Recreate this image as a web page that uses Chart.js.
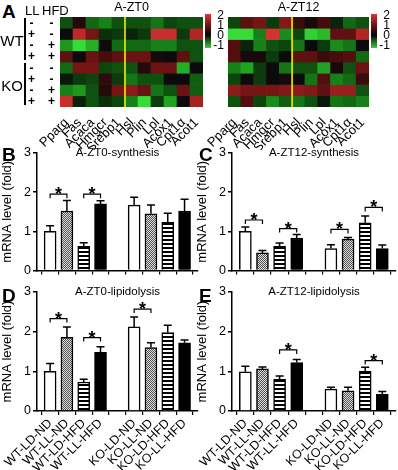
<!DOCTYPE html>
<html><head><meta charset="utf-8">
<script src="https://cdn.jsdelivr.net/npm/chart.js@4.4.0/dist/chart.umd.min.js"></script>
<style>
body{margin:0;background:#fff;}
#root{position:relative;width:398px;height:470px;overflow:hidden;background:#fff;font-family:"Liberation Sans",Arial,sans-serif;}
.box{position:absolute;}
.t{position:absolute;color:#000;white-space:nowrap;line-height:1;font-family:"Liberation Sans",Arial,sans-serif;}
.c{transform:translate(-50%,-50%);}
.L{font-weight:bold;font-size:19px;}
.vbar{position:absolute;background:#000;width:2px;}
</style></head><body>
<div id="root">
  <div class="box" style="left:30px;top:0;width:200px;height:150px"><canvas id="hm0" width="200" height="150"></canvas></div>
  <div class="box" style="left:200px;top:0;width:198px;height:150px"><canvas id="hm12" width="198" height="150"></canvas></div>
  <div class="box" style="left:0;top:135px;width:200px;height:145px"><canvas id="cB" width="200" height="145"></canvas></div>
  <div class="box" style="left:195px;top:135px;width:203px;height:145px"><canvas id="cC" width="203" height="145"></canvas></div>
  <div class="box" style="left:0;top:280px;width:200px;height:190px"><canvas id="cD" width="200" height="190"></canvas></div>
  <div class="box" style="left:195px;top:280px;width:203px;height:190px"><canvas id="cE" width="203" height="190"></canvas></div>
</div>
<script>
// ---------------- data ----------------
const genes = ['Pparg','Fas','Acaca','Hmgcr','Srebp1','Hsl','Plin','Lpl','Acox1','Cpt1α','Acot1'];
const genotypes = ['WT','WT','WT','WT','KO','KO','KO','KO'];
const llSigns  = ['-','+','-','+','-','+','-','+'];
const hfdSigns = ['-','-','+','+','-','-','+','+'];
const colorbarTicks = ['2','1','0','-1'];

const heatZT0 = [
  [-0.30, 0.10,-0.40,-0.50,-0.30,-0.30,-0.30,-0.45,-0.25,-0.30,-0.30],
  [ 0.00, 0.75, 0.45,-0.15,-0.20,-0.10,-0.20, 0.80, 0.80,-0.20, 0.70],
  [-0.60,-0.90,-0.70, 0.00,-0.40,-0.40,-0.40,-0.50,-0.50,-0.30,-0.30],
  [ 0.35, 0.00, 0.40, 0.25, 0.35, 0.40, 0.40, 0.05, 0.00, 0.35,-0.30],
  [-0.40, 0.45, 0.45,-0.25,-0.30,-0.30, 0.10, 0.40, 0.40,-0.70, 0.00],
  [-0.05,-0.20,-0.25, 0.15,-0.20,-0.45,-0.30,-0.30, 0.00, 0.00,-0.35],
  [-0.50,-0.60,-0.30, 0.10, 0.45, 0.55, 0.40,-0.45,-0.30, 0.40,-0.35],
  [ 0.80,-0.10,-0.30,-0.15,-0.25,-0.50,-0.95,-0.20,-0.65, 0.00, 0.65]
];
const heatZT12 = [
  [-0.25, 0.35, 0.45,-0.20, 0.50, 0.20, 0.05, 0.25,-0.10,-0.40,-0.30],
  [-0.90,-0.90,-0.50, 0.85,-0.55,-0.25,-0.85,-0.75, 0.35, 0.35, 0.70],
  [ 0.30,-0.10,-0.50,-0.30,-0.25,-0.45, 0.00,-0.20,-0.55,-0.45, 0.00],
  [ 0.30, 0.05, 0.05,-0.20, 0.00, 0.35, 0.35, 0.20, 0.25, 0.30,-0.40],
  [-0.50,-0.65,-0.20, 0.00,-0.45,-0.30,-0.30,-0.65, 0.05,-0.30, 0.40],
  [-0.25, 0.00,-0.20, 0.00, 0.05, 0.00,-0.45, 0.30,-0.50,-0.40, 0.20],
  [ 0.55, 0.45, 0.45, 0.45, 0.50, 0.55, 0.50, 0.35, 0.60, 0.60,-0.30],
  [-0.30, 0.30,-0.25,-0.55,-0.35,-0.45,-0.30,-0.05,-0.45,-0.40,-0.50]
];

const groups = ['WT-LD-ND','WT-LL-ND','WT-LD-HFD','WT-LL-HFD','','KO-LD-ND','KO-LL-ND','KO-LD-HFD','KO-LL-HFD'];
const yTicks = [0,1,2,3];

const zt0Synthesis    = [1.00,1.52,0.62,1.70,null,1.67,1.45,1.23,1.52];
const zt0SynthesisErr = [0.14,0.27,0.09,0.08,null,0.20,0.22,0.23,0.30];
const zt0SynthesisSig = [[0,1,1.95],[2,3,1.95]];

const zt12Synthesis    = [1.00,0.45,0.62,0.83,null,0.56,0.80,1.22,0.56];
const zt12SynthesisErr = [0.11,0.06,0.08,0.09,null,0.10,0.04,0.17,0.09];
const zt12SynthesisSig = [[0,1,1.29],[2,3,1.07],[5,6,1.05],[7,8,1.61]];

const zt0Lipolysis    = [1.00,1.86,0.73,1.48,null,2.12,1.60,1.98,1.72];
const zt0LipolysisErr = [0.20,0.26,0.07,0.14,null,0.25,0.12,0.18,0.07];
const zt0LipolysisSig = [[0,1,2.33],[2,3,1.85],[5,6,2.57]];

const zt12Lipolysis    = [0.99,1.06,0.80,1.22,null,0.55,0.51,1.00,0.42];
const zt12LipolysisErr = [0.14,0.05,0.08,0.08,null,0.05,0.09,0.10,0.07];
const zt12LipolysisSig = [[2,3,1.54],[7,8,1.27]];

// ---------------- helpers ----------------
const FONT = '"Liberation Sans", Arial, sans-serif';
Chart.defaults.font.family = FONT;
Chart.defaults.color = '#000';
Chart.defaults.animation = false;

function heatColor(v){
  const t = Math.min(1, Math.abs(v)/0.9);
  const s = Math.round(10 + 45*t*t);
  if (v >= 0) return `rgb(${Math.round(12+213*t)},${s},${s})`;
  return `rgb(${s},${Math.round(12+208*t)},${s})`;
}

function makePattern(kind){
  const c = document.createElement('canvas');
  const x = c.getContext('2d');
  if (kind === 'dots'){
    c.width = 2; c.height = 2;
    x.fillStyle = '#e0e0e0'; x.fillRect(0,0,2,2);
    x.fillStyle = '#505050'; x.fillRect(0,0,1,1); x.fillRect(1,1,1,1);
  } else {
    c.width = 4; c.height = 4;
    x.fillStyle = '#fff'; x.fillRect(0,0,4,4);
    x.fillStyle = '#000'; x.fillRect(0,0,4,2);
  }
  return x.createPattern(c, 'repeat');
}
const fills = ['#fff', makePattern('dots'), makePattern('stripes'), '#000'];
const barFills = groups.map((g,i)=> i===4 ? '#fff' : fills[(i>4?i-5:i)]);

// ---------------- plugins ----------------
const ptitle = {
  id:'ptitle',
  afterDraw(chart, args, o){
    if(!o.text) return;
    const {ctx, chartArea:a} = chart;
    ctx.save(); ctx.font = o.font; ctx.fillStyle = '#000';
    ctx.textAlign = 'center'; ctx.textBaseline = 'middle';
    ctx.fillText(o.text, (a.left+a.right)/2 + (o.dx||0), a.top + (o.dy||0));
    ctx.restore();
  }
};
const errorBars = {
  id:'errorBars',
  afterDatasetsDraw(chart, args, o){
    const {ctx} = chart, ys = chart.scales.y, meta = chart.getDatasetMeta(0);
    const vals = chart.data.datasets[0].data;
    ctx.save(); ctx.strokeStyle = '#000'; ctx.lineWidth = 1.5;
    o.errors.forEach((e,i)=>{
      const v = vals[i].y;
      if (e == null || v == null) return;
      const x = meta.data[i].x, y0 = ys.getPixelForValue(v), y1 = ys.getPixelForValue(v+e);
      ctx.beginPath();
      ctx.moveTo(x, y0); ctx.lineTo(x, y1);
      ctx.moveTo(x - o.cap/2, y1); ctx.lineTo(x + o.cap/2, y1);
      ctx.stroke();
    });
    ctx.restore();
  }
};
const brackets = {
  id:'brackets',
  afterDatasetsDraw(chart, args, o){
    const {ctx} = chart, xs = chart.scales.x, ys = chart.scales.y;
    ctx.save(); ctx.strokeStyle = '#000'; ctx.lineWidth = 1.2; ctx.fillStyle = '#000';
    ctx.font = 'bold 18px ' + FONT; ctx.textAlign = 'center'; ctx.textBaseline = 'alphabetic';
    o.items.forEach(([a,b,lv])=>{
      const x1 = xs.getPixelForValue(a), x2 = xs.getPixelForValue(b), y = ys.getPixelForValue(lv);
      ctx.beginPath();
      ctx.moveTo(x1, y+4); ctx.lineTo(x1, y); ctx.lineTo(x2, y); ctx.lineTo(x2, y+4);
      ctx.stroke();
      ctx.fillText('*', (x1+x2)/2, y + 6);
    });
    ctx.restore();
  }
};
const heatDecor = {
  id:'heatDecor',
  afterDatasetsDraw(chart, args, o){
    const {ctx, chartArea:a} = chart, xs = chart.scales.x;
    const xm = (xs.getPixelForTick(4) + xs.getPixelForTick(5))/2;
    ctx.save();
    ctx.strokeStyle = '#f0f000'; ctx.lineWidth = 1.6;
    ctx.beginPath(); ctx.moveTo(xm, a.top); ctx.lineTo(xm, a.bottom); ctx.stroke();
    const bx = a.right + o.gap, by0 = o.top, by1 = o.top + o.height;
    const g = ctx.createLinearGradient(0, by0, 0, by1);
    g.addColorStop(0, '#d83838'); g.addColorStop(0.3, '#7a1616');
    g.addColorStop(0.62, '#060606'); g.addColorStop(1, '#3ccc3c');
    ctx.fillStyle = g; ctx.fillRect(bx, by0, o.width, o.height);
    ctx.fillStyle = '#000'; ctx.font = '12px ' + FONT;
    ctx.textAlign = 'right'; ctx.textBaseline = 'middle';
    colorbarTicks.forEach((t,i)=>{
      const y = by0 + 2 + i*(o.height-4)/(colorbarTicks.length-1);
      ctx.fillText(t, bx + o.width + o.labelOffset, y);
    });
    ctx.restore();
  }
};

// ---------------- heatmaps ----------------
function heatmap(id, values, title, pad){
  new Chart(document.getElementById(id), {
    type:'bar',
    data:{
      labels: genes,
      datasets: values.map((row, ri)=>({
        label: genotypes[ri] + ' LL' + llSigns[ri] + ' HFD' + hfdSigns[ri],
        data: row.map(()=>1),
        backgroundColor: row.map(heatColor),
        borderWidth: 0, barPercentage: 1, categoryPercentage: 1
      }))
    },
    options:{
      responsive:false, animation:false,
      layout:{padding:pad},
      plugins:{legend:{display:false}, tooltip:{enabled:false},
        ptitle:{text:title, font:'12.5px '+FONT, dy:-9},
        heatDecor:{gap:2, width:6, top:14, height:34, labelOffset:13}},
      scales:{
        x:{stacked:true, offset:true, grid:{display:false}, border:{display:false},
           ticks:{autoSkip:false, minRotation:45, maxRotation:45, padding:0, font:{size:13}},
           afterFit(s){ s.height = 43; s.paddingLeft = 0; s.paddingRight = 0; }},
        y:{stacked:true, reverse:true, min:0, max:genotypes.length, display:false}
      }
    },
    plugins:[ptitle, heatDecor]
  });
}
heatmap('hm0', heatZT0, 'A-ZT0', {left:30, right:27, top:17, bottom:0});
heatmap('hm12', heatZT12, 'A-ZT12', {left:28, right:29, top:17, bottom:0});

// ---------------- bar panels ----------------
function barPanel(id, values, errs, sigs, title, showLabels, xAxisH, padTop){
  new Chart(document.getElementById(id), {
    type:'bar',
    data:{ datasets:[{
      data: values.map((v,i)=>({x:i, y:v})),
      backgroundColor: barFills, borderColor:'#000', borderWidth:1.5,
      barThickness:12
    }]},
    options:{
      responsive:false, animation:false,
      layout:{padding:{left:0, right:2, top:padTop, bottom:0}},
      plugins:{legend:{display:false}, tooltip:{enabled:false},
        ptitle:{text:title, font:'11.5px '+FONT, dy:0},
        errorBars:{errors:errs, cap:8},
        brackets:{items:sigs}},
      scales:{
        x:{type:'linear', min:-0.78, max:8.8, offset:false,
           grid:{drawOnChartArea:false, drawTicks:true, tickLength:4, color:'#000', lineWidth:1.2},
           border:{display:true, color:'#000', width:1.5},
           afterBuildTicks(s){ s.ticks = groups.map((g,i)=>({value:i})); },
           ticks:{autoSkip:false, minRotation:45, maxRotation:45, padding:1, font:{size:12.5},
                  includeBounds:false,
                  callback:(v)=> showLabels ? (groups[v] || '') : ''},
           afterFit(s){ s.height = xAxisH; s.paddingLeft = 0; s.paddingRight = 0; }},
        y:{min:0, max:3,
           grid:{drawOnChartArea:false, drawTicks:true, tickLength:4, color:'#000', lineWidth:1.5},
           border:{display:true, color:'#000', width:1.5},
           afterBuildTicks(s){ s.ticks = yTicks.map(v=>({value:v})); },
           ticks:{font:{size:12.5}, padding:2},
           title:{display:true, text:'mRNA level (fold)', font:{size:13}, padding:{top:0,bottom:2}},
           afterFit(s){ s.width = 37; }}
      }
    },
    plugins:[ptitle, errorBars, brackets]
  });
}
barPanel('cB', zt0Synthesis, zt0SynthesisErr, zt0SynthesisSig, 'A-ZT0-synthesis', false, 9, 18);
barPanel('cC', zt12Synthesis, zt12SynthesisErr, zt12SynthesisSig, 'A-ZT12-synthesis', false, 9, 18);
barPanel('cD', zt0Lipolysis, zt0LipolysisErr, zt0LipolysisSig, 'A-ZT0-lipidolysis', true, 59, 12);
barPanel('cE', zt12Lipolysis, zt12LipolysisErr, zt12LipolysisSig, 'A-ZT12-lipidolysis', true, 59, 12);

// ---------------- text labels ----------------
const root = document.getElementById('root');
function addText(txt, x, y, cls, style){
  const s = document.createElement('span');
  s.className = 't ' + (cls||''); s.textContent = txt;
  s.style.left = x + 'px'; s.style.top = y + 'px';
  if (style) Object.assign(s.style, style);
  root.appendChild(s);
}
addText('A', 2, 2, 'L');
addText('B', 2, 145, 'L');
addText('C', 199, 145, 'L');
addText('D', 2, 286, 'L');
addText('E', 199, 286, 'L');
addText('LL', 25, 4, '', {fontSize:'13px'});
addText('HFD', 42, 4, '', {fontSize:'13px'});
const rowTop = 17, rowH = 90/genotypes.length;
['WT','KO'].forEach((g,gi)=>{
  addText(g, 12, rowTop + rowH*(gi*4+2), 'c', {fontSize:'15px'});
  const bar = document.createElement('div');
  bar.className = 'vbar';
  bar.style.left = '23.5px';
  bar.style.top = (rowTop + rowH*gi*4 + 1) + 'px';
  bar.style.height = (rowH*4 - 3) + 'px';
  root.appendChild(bar);
});
genotypes.forEach((g,i)=>{
  const y = rowTop + rowH*(i+0.5);
  addText(llSigns[i], 31.5, y, 'c', {fontSize:'12px', fontWeight:'bold'});
  addText(hfdSigns[i], 51.5, y, 'c', {fontSize:'12px', fontWeight:'bold'});
});
</script>
</body></html>
